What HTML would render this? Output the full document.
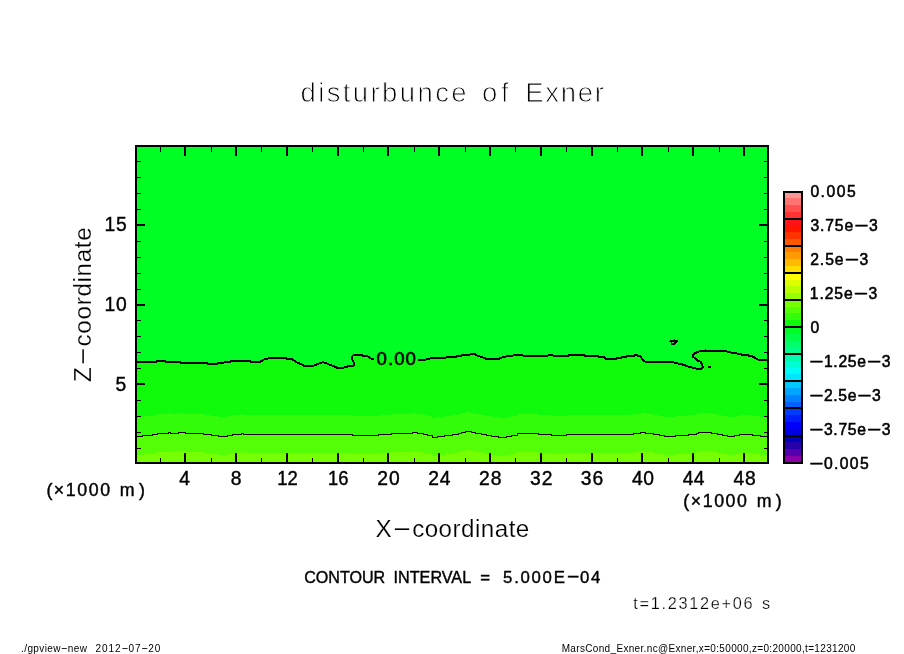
<!DOCTYPE html>
<html lang="en"><head><meta charset="utf-8"><title>disturbunce of Exner</title>
<style>
html,body{margin:0;padding:0;background:#fff;}
body{width:904px;height:654px;overflow:hidden;}
svg{display:block;}
text{white-space:pre;}
</style></head><body>
<svg width="904" height="654" viewBox="0 0 904 654">
<rect width="904" height="654" fill="#fff"/>
<g shape-rendering="crispEdges">
<rect x="136" y="146" width="632" height="317" fill="#00fd23"/>
<polygon points="136,362 156,362 157,361 165,361 166,362 180,362 181,363 207,363 208,364 217,364 218,363 222,363 224,362.5 230,362 231,361 250,361 251,362 260,362 261.5,361 263,360 265.5,359 270.5,358 286,358 287,359 292,359 293,360 295.5,361.5 298,363 302,364.5 304,366 313,366 315,365 318,364 320.5,363 323,362.25 325.5,363 328,364 330.5,365 333,366 336,367 337,367.75 344,367.5 349.3,366 353.3,365.75 354,364.8 354,363 352.7,360.5 351.8,358.3 351.5,357 353,355.5 354.9,354.9 362.3,354.9 363,355.8 367.3,356.2 369.7,357.4 371.6,358.9 373.8,359.1 378,359.8 414,360.3 418,360 427.5,359.4 430,358.5 446,357.5 456,357 457,356 461,356 462,355 469.4,355 470.5,354 475,354 476,355 479,356.25 482.5,357.25 486,358.75 499.4,358.75 501,357.75 505,357 507.5,356 512.5,356 513.5,355 522.5,355 523.5,356 547.5,356 548.5,355 552.5,355 553.5,356 568,356 569,355 583.75,355 584.75,356 598,356 599,357 604,357 606,358.75 616,358.75 617,358 621,358 622,357 626,357 627,356 634,356 635,355 637,355 638,356 640,356 642,358.75 643.75,360.6 646,362 672.5,362 675,362.9 680,363.9 684,364.9 686.7,366 689.2,366.9 693,367.8 698.5,368.95 701.6,368.95 702.9,367.2 702.3,365.4 701.3,362.9 700.4,361.6 697.9,361 696.7,359.5 694.8,358.2 693,356.7 692.7,354.8 694.2,353.6 696.7,352.3 699.2,351.4 701,350.8 725.75,350.8 728,352 734.5,353 742,354.6 752,356 755.75,358.5 759.5,360 768,360.6 768,463 136,463" fill="#10fa0c"/>
<polygon points="136,416.5 142.5,416.5 142.5,415.5 152.5,415.5 152.5,414.5 157.5,414.5 157.5,413.5 168,413.5 168,412.5 170.6,412.5 170.6,413.5 178,413.5 178,412.5 185,412.5 185,413.5 203.75,413.5 203.75,414.5 211,414.5 211,415.5 218,415.5 218,416.5 227,416.5 227,415.5 232,415.5 232,414.5 241,414.5 241,413.5 243.75,413.5 243.75,414.5 352.8,414.5 352.8,415.5 378.6,415.5 378.6,414.5 391,414.5 391,413.5 412.4,413.5 412.4,412.5 417.4,412.5 417.4,413.5 423,413.5 423,414.5 427,414.5 427,415.5 432,415.5 432,417.5 437,417.5 437,416.5 444.75,416.5 444.75,415.5 452,415.5 452,414.5 458,414.5 458,413.5 461,413.5 461,412.5 465.5,412.5 465.5,411.5 471,411.5 471,412.5 475.4,412.5 475.4,413.5 481,413.5 481,414.5 486,414.5 486,415.5 491,415.5 491,416.5 498.7,416.5 498.7,417.5 506,417.5 506,416.5 511,416.5 511,415.5 517,415.5 517,413.5 538.3,413.5 538.3,414.5 551.6,414.5 551.6,415.5 566.5,415.5 566.5,414.5 633,414.5 633,413.5 640.6,413.5 640.6,412.5 645.5,412.5 645.5,413.5 653,413.5 653,414.5 659,414.5 659,415.5 664,415.5 664,416.5 675.6,416.5 675.6,415.5 688.9,415.5 688.9,414.5 696.3,414.5 696.3,413.5 698.8,413.5 698.8,412.5 711.3,412.5 711.3,413.5 717,413.5 717,414.5 722,414.5 722,415.5 727,415.5 727,416.5 734.5,416.5 734.5,415.5 739.5,415.5 739.5,414.5 752.8,414.5 752.8,415.5 760.2,415.5 760.2,416.5 768,416.5 768,463 136,463" fill="#32fc0a"/>
<polygon points="136,436.5 142.5,436.5 142.5,435.5 152.5,435.5 152.5,434.5 157.5,434.5 157.5,433.5 168,433.5 168,432.5 170.6,432.5 170.6,433.5 178,433.5 178,432.5 185,432.5 185,433.5 203.75,433.5 203.75,434.5 211,434.5 211,435.5 218,435.5 218,436.5 227,436.5 227,435.5 232,435.5 232,434.5 241,434.5 241,433.5 243.75,433.5 243.75,434.5 352.8,434.5 352.8,435.5 378.6,435.5 378.6,434.5 391,434.5 391,433.5 412.4,433.5 412.4,432.5 417.4,432.5 417.4,433.5 423,433.5 423,434.5 427,434.5 427,435.5 432,435.5 432,437.5 437,437.5 437,436.5 444.75,436.5 444.75,435.5 452,435.5 452,434.5 458,434.5 458,433.5 461,433.5 461,432.5 465.5,432.5 465.5,431.5 471,431.5 471,432.5 475.4,432.5 475.4,433.5 481,433.5 481,434.5 486,434.5 486,435.5 491,435.5 491,436.5 498.7,436.5 498.7,437.5 506,437.5 506,436.5 511,436.5 511,435.5 517,435.5 517,433.5 538.3,433.5 538.3,434.5 551.6,434.5 551.6,435.5 566.5,435.5 566.5,434.5 633,434.5 633,433.5 640.6,433.5 640.6,432.5 645.5,432.5 645.5,433.5 653,433.5 653,434.5 659,434.5 659,435.5 664,435.5 664,436.5 675.6,436.5 675.6,435.5 688.9,435.5 688.9,434.5 696.3,434.5 696.3,433.5 698.8,433.5 698.8,432.5 711.3,432.5 711.3,433.5 717,433.5 717,434.5 722,434.5 722,435.5 727,435.5 727,436.5 734.5,436.5 734.5,435.5 739.5,435.5 739.5,434.5 752.8,434.5 752.8,435.5 760.2,435.5 760.2,436.5 768,436.5 768,463 136,463" fill="#54fe06"/>
<polygon points="136,455 142.5,455 142.5,454 152.5,454 152.5,453 157.5,453 157.5,452 168,452 168,451 170.6,451 170.6,452 178,452 178,451 185,451 185,452 203.75,452 203.75,453 211,453 211,454 218,454 218,455 227,455 227,454 232,454 232,453 241,453 241,452 243.75,452 243.75,453 352.8,453 352.8,454 378.6,454 378.6,453 391,453 391,452 412.4,452 412.4,451 417.4,451 417.4,452 423,452 423,453 427,453 427,454 432,454 432,456 437,456 437,455 444.75,455 444.75,454 452,454 452,453 458,453 458,452 461,452 461,451 465.5,451 465.5,450 471,450 471,451 475.4,451 475.4,452 481,452 481,453 486,453 486,454 491,454 491,455 498.7,455 498.7,456 506,456 506,455 511,455 511,454 517,454 517,452 538.3,452 538.3,453 551.6,453 551.6,454 566.5,454 566.5,453 633,453 633,452 640.6,452 640.6,451 645.5,451 645.5,452 653,452 653,453 659,453 659,454 664,454 664,455 675.6,455 675.6,454 688.9,454 688.9,453 696.3,453 696.3,452 698.8,452 698.8,451 711.3,451 711.3,452 717,452 717,453 722,453 722,454 727,454 727,455 734.5,455 734.5,454 739.5,454 739.5,453 752.8,453 752.8,454 760.2,454 760.2,455 768,455 768,463 136,463" fill="#76ff02"/>
<polyline points="136,362 156,362 157,361 165,361 166,362 180,362 181,363 207,363 208,364 217,364 218,363 222,363 224,362.5 230,362 231,361 250,361 251,362 260,362 261.5,361 263,360 265.5,359 270.5,358 286,358 287,359 292,359 293,360 295.5,361.5 298,363 302,364.5 304,366 313,366 315,365 318,364 320.5,363 323,362.25 325.5,363 328,364 330.5,365 333,366 336,367 337,367.75 344,367.5 349.3,366 353.3,365.75 354,364.8 354,363 352.7,360.5 351.8,358.3 351.5,357 353,355.5 354.9,354.9 362.3,354.9 363,355.8 367.3,356.2 369.7,357.4 371.6,358.9 373.8,359.1" fill="none" stroke="#000" stroke-width="2"/>
<polyline points="418,360 427.5,359.4 430,358.5 446,357.5 456,357 457,356 461,356 462,355 469.4,355 470.5,354 475,354 476,355 479,356.25 482.5,357.25 486,358.75 499.4,358.75 501,357.75 505,357 507.5,356 512.5,356 513.5,355 522.5,355 523.5,356 547.5,356 548.5,355 552.5,355 553.5,356 568,356 569,355 583.75,355 584.75,356 598,356 599,357 604,357 606,358.75 616,358.75 617,358 621,358 622,357 626,357 627,356 634,356 635,355 637,355 638,356 640,356 642,358.75 643.75,360.6 646,362 672.5,362 675,362.9 680,363.9 684,364.9 686.7,366 689.2,366.9 693,367.8 698.5,368.95 701.6,368.95 702.9,367.2 702.3,365.4 701.3,362.9 700.4,361.6 697.9,361 696.7,359.5 694.8,358.2 693,356.7 692.7,354.8 694.2,353.6 696.7,352.3 699.2,351.4 701,350.8 725.75,350.8 728,352 734.5,353 742,354.6 752,356 755.75,358.5 759.5,360 768,360.6" fill="none" stroke="#000" stroke-width="2"/>
<polyline points="136,436.5 142.5,436.5 142.5,435.5 152.5,435.5 152.5,434.5 157.5,434.5 157.5,433.5 168,433.5 168,432.5 170.6,432.5 170.6,433.5 178,433.5 178,432.5 185,432.5 185,433.5 203.75,433.5 203.75,434.5 211,434.5 211,435.5 218,435.5 218,436.5 227,436.5 227,435.5 232,435.5 232,434.5 241,434.5 241,433.5 243.75,433.5 243.75,434.5 352.8,434.5 352.8,435.5 378.6,435.5 378.6,434.5 391,434.5 391,433.5 412.4,433.5 412.4,432.5 417.4,432.5 417.4,433.5 423,433.5 423,434.5 427,434.5 427,435.5 432,435.5 432,437.5 437,437.5 437,436.5 444.75,436.5 444.75,435.5 452,435.5 452,434.5 458,434.5 458,433.5 461,433.5 461,432.5 465.5,432.5 465.5,431.5 471,431.5 471,432.5 475.4,432.5 475.4,433.5 481,433.5 481,434.5 486,434.5 486,435.5 491,435.5 491,436.5 498.7,436.5 498.7,437.5 506,437.5 506,436.5 511,436.5 511,435.5 517,435.5 517,433.5 538.3,433.5 538.3,434.5 551.6,434.5 551.6,435.5 566.5,435.5 566.5,434.5 633,434.5 633,433.5 640.6,433.5 640.6,432.5 645.5,432.5 645.5,433.5 653,433.5 653,434.5 659,434.5 659,435.5 664,435.5 664,436.5 675.6,436.5 675.6,435.5 688.9,435.5 688.9,434.5 696.3,434.5 696.3,433.5 698.8,433.5 698.8,432.5 711.3,432.5 711.3,433.5 717,433.5 717,434.5 722,434.5 722,435.5 727,435.5 727,436.5 734.5,436.5 734.5,435.5 739.5,435.5 739.5,434.5 752.8,434.5 752.8,435.5 760.2,435.5 760.2,436.5 768,436.5" fill="none" stroke="#000" stroke-width="1"/>
<rect x="674" y="339" width="1" height="1" fill="#000"/>
<rect x="670" y="340" width="8" height="1" fill="#000"/>
<rect x="669" y="341" width="9" height="1" fill="#000"/>
<rect x="671" y="342" width="1" height="1" fill="#000"/>
<rect x="674" y="342" width="3" height="1" fill="#000"/>
<rect x="671" y="343" width="5" height="1" fill="#000"/>
<rect x="671" y="344" width="4" height="1" fill="#000"/>
<rect x="672" y="342" width="2" height="1" fill="#10fa0c"/>
<rect x="708" y="366" width="3" height="2" fill="#000"/>
<rect x="705" y="349" width="1" height="1" fill="#000"/>
<rect x="160" y="147" width="1" height="5" fill="#000"/>
<rect x="160" y="458" width="1" height="4" fill="#000"/>
<rect x="184" y="147" width="2" height="9" fill="#000"/>
<rect x="184" y="453" width="2" height="9" fill="#000"/>
<rect x="211" y="147" width="1" height="5" fill="#000"/>
<rect x="211" y="458" width="1" height="4" fill="#000"/>
<rect x="235" y="147" width="2" height="9" fill="#000"/>
<rect x="235" y="453" width="2" height="9" fill="#000"/>
<rect x="261" y="147" width="1" height="5" fill="#000"/>
<rect x="261" y="458" width="1" height="4" fill="#000"/>
<rect x="286" y="147" width="2" height="9" fill="#000"/>
<rect x="286" y="453" width="2" height="9" fill="#000"/>
<rect x="312" y="147" width="1" height="5" fill="#000"/>
<rect x="312" y="458" width="1" height="4" fill="#000"/>
<rect x="337" y="147" width="2" height="9" fill="#000"/>
<rect x="337" y="453" width="2" height="9" fill="#000"/>
<rect x="363" y="147" width="1" height="5" fill="#000"/>
<rect x="363" y="458" width="1" height="4" fill="#000"/>
<rect x="387" y="147" width="2" height="9" fill="#000"/>
<rect x="387" y="453" width="2" height="9" fill="#000"/>
<rect x="414" y="147" width="1" height="5" fill="#000"/>
<rect x="414" y="458" width="1" height="4" fill="#000"/>
<rect x="438" y="147" width="2" height="9" fill="#000"/>
<rect x="438" y="453" width="2" height="9" fill="#000"/>
<rect x="465" y="147" width="1" height="5" fill="#000"/>
<rect x="465" y="458" width="1" height="4" fill="#000"/>
<rect x="489" y="147" width="2" height="9" fill="#000"/>
<rect x="489" y="453" width="2" height="9" fill="#000"/>
<rect x="515" y="147" width="1" height="5" fill="#000"/>
<rect x="515" y="458" width="1" height="4" fill="#000"/>
<rect x="540" y="147" width="2" height="9" fill="#000"/>
<rect x="540" y="453" width="2" height="9" fill="#000"/>
<rect x="566" y="147" width="1" height="5" fill="#000"/>
<rect x="566" y="458" width="1" height="4" fill="#000"/>
<rect x="591" y="147" width="2" height="9" fill="#000"/>
<rect x="591" y="453" width="2" height="9" fill="#000"/>
<rect x="617" y="147" width="1" height="5" fill="#000"/>
<rect x="617" y="458" width="1" height="4" fill="#000"/>
<rect x="641" y="147" width="2" height="9" fill="#000"/>
<rect x="641" y="453" width="2" height="9" fill="#000"/>
<rect x="668" y="147" width="1" height="5" fill="#000"/>
<rect x="668" y="458" width="1" height="4" fill="#000"/>
<rect x="692" y="147" width="2" height="9" fill="#000"/>
<rect x="692" y="453" width="2" height="9" fill="#000"/>
<rect x="719" y="147" width="1" height="5" fill="#000"/>
<rect x="719" y="458" width="1" height="4" fill="#000"/>
<rect x="743" y="147" width="2" height="9" fill="#000"/>
<rect x="743" y="453" width="2" height="9" fill="#000"/>
<rect x="137" y="448" width="4" height="1" fill="#000"/>
<rect x="764" y="448" width="3" height="1" fill="#000"/>
<rect x="137" y="432" width="4" height="1" fill="#000"/>
<rect x="764" y="432" width="3" height="1" fill="#000"/>
<rect x="137" y="416" width="4" height="1" fill="#000"/>
<rect x="764" y="416" width="3" height="1" fill="#000"/>
<rect x="137" y="400" width="4" height="1" fill="#000"/>
<rect x="764" y="400" width="3" height="1" fill="#000"/>
<rect x="137" y="383" width="8" height="2" fill="#000"/>
<rect x="759" y="383" width="8" height="2" fill="#000"/>
<rect x="137" y="368" width="4" height="1" fill="#000"/>
<rect x="764" y="368" width="3" height="1" fill="#000"/>
<rect x="137" y="352" width="4" height="1" fill="#000"/>
<rect x="764" y="352" width="3" height="1" fill="#000"/>
<rect x="137" y="336" width="4" height="1" fill="#000"/>
<rect x="764" y="336" width="3" height="1" fill="#000"/>
<rect x="137" y="320" width="4" height="1" fill="#000"/>
<rect x="764" y="320" width="3" height="1" fill="#000"/>
<rect x="137" y="304" width="8" height="2" fill="#000"/>
<rect x="759" y="304" width="8" height="2" fill="#000"/>
<rect x="137" y="289" width="4" height="1" fill="#000"/>
<rect x="764" y="289" width="3" height="1" fill="#000"/>
<rect x="137" y="273" width="4" height="1" fill="#000"/>
<rect x="764" y="273" width="3" height="1" fill="#000"/>
<rect x="137" y="257" width="4" height="1" fill="#000"/>
<rect x="764" y="257" width="3" height="1" fill="#000"/>
<rect x="137" y="241" width="4" height="1" fill="#000"/>
<rect x="764" y="241" width="3" height="1" fill="#000"/>
<rect x="137" y="224" width="8" height="2" fill="#000"/>
<rect x="759" y="224" width="8" height="2" fill="#000"/>
<rect x="137" y="209" width="4" height="1" fill="#000"/>
<rect x="764" y="209" width="3" height="1" fill="#000"/>
<rect x="137" y="193" width="4" height="1" fill="#000"/>
<rect x="764" y="193" width="3" height="1" fill="#000"/>
<rect x="137" y="177" width="4" height="1" fill="#000"/>
<rect x="764" y="177" width="3" height="1" fill="#000"/>
<rect x="137" y="161" width="4" height="1" fill="#000"/>
<rect x="764" y="161" width="3" height="1" fill="#000"/>
<rect x="136" y="146" width="632" height="317" fill="none" stroke="#000" stroke-width="2"/>
<rect x="784" y="192" width="18" height="6" fill="#ff9696"/>
<rect x="784" y="198" width="18" height="7" fill="#ff7373"/>
<rect x="784" y="205" width="18" height="7" fill="#ff5050"/>
<rect x="784" y="212" width="18" height="7" fill="#ff3232"/>
<rect x="784" y="219" width="18" height="6" fill="#ff1419"/>
<rect x="784" y="225" width="18" height="7" fill="#ff1400"/>
<rect x="784" y="232" width="18" height="7" fill="#ff3200"/>
<rect x="784" y="239" width="18" height="7" fill="#ff5a00"/>
<rect x="784" y="246" width="18" height="6" fill="#ff7d00"/>
<rect x="784" y="252" width="18" height="7" fill="#ff9b00"/>
<rect x="784" y="259" width="18" height="7" fill="#ffb900"/>
<rect x="784" y="266" width="18" height="7" fill="#ffdc00"/>
<rect x="784" y="273" width="18" height="7" fill="#ffff00"/>
<rect x="784" y="280" width="18" height="6" fill="#dcff00"/>
<rect x="784" y="286" width="18" height="7" fill="#b9ff00"/>
<rect x="784" y="293" width="18" height="7" fill="#96ff00"/>
<rect x="784" y="300" width="18" height="7" fill="#76ff02"/>
<rect x="784" y="307" width="18" height="6" fill="#54fe06"/>
<rect x="784" y="313" width="18" height="7" fill="#32fc0a"/>
<rect x="784" y="320" width="18" height="7" fill="#10fa0c"/>
<rect x="784" y="327" width="18" height="7" fill="#00fd23"/>
<rect x="784" y="334" width="18" height="7" fill="#00fd48"/>
<rect x="784" y="341" width="18" height="6" fill="#00fd6c"/>
<rect x="784" y="347" width="18" height="7" fill="#00fd8c"/>
<rect x="784" y="354" width="18" height="7" fill="#00fdaf"/>
<rect x="784" y="361" width="18" height="7" fill="#00fed2"/>
<rect x="784" y="368" width="18" height="6" fill="#00fcf5"/>
<rect x="784" y="374" width="18" height="7" fill="#00e6ff"/>
<rect x="784" y="381" width="18" height="7" fill="#00c8ff"/>
<rect x="784" y="388" width="18" height="7" fill="#00a5ff"/>
<rect x="784" y="395" width="18" height="7" fill="#0082ff"/>
<rect x="784" y="402" width="18" height="6" fill="#005fff"/>
<rect x="784" y="408" width="18" height="7" fill="#003cff"/>
<rect x="784" y="415" width="18" height="7" fill="#001efc"/>
<rect x="784" y="422" width="18" height="7" fill="#0000fa"/>
<rect x="784" y="429" width="18" height="6" fill="#0000e1"/>
<rect x="784" y="435" width="18" height="7" fill="#0000b9"/>
<rect x="784" y="442" width="18" height="7" fill="#2800aa"/>
<rect x="784" y="449" width="18" height="7" fill="#5500af"/>
<rect x="784" y="456" width="18" height="7" fill="#8c00aa"/>
<rect x="784" y="218" width="18" height="2" fill="#000"/>
<rect x="784" y="245" width="18" height="2" fill="#000"/>
<rect x="784" y="272" width="18" height="2" fill="#000"/>
<rect x="784" y="299" width="18" height="2" fill="#000"/>
<rect x="784" y="326" width="18" height="2" fill="#000"/>
<rect x="784" y="353" width="18" height="2" fill="#000"/>
<rect x="784" y="380" width="18" height="2" fill="#000"/>
<rect x="784" y="407" width="18" height="2" fill="#000"/>
<rect x="784" y="435" width="18" height="2" fill="#000"/>
<rect x="784" y="192" width="18" height="271" fill="none" stroke="#000" stroke-width="2"/>
</g>
<g font-family="'Liberation Sans', 'DejaVu Sans', sans-serif" fill="#000">
<text y="101.5" font-size="27.5" stroke="#fff" stroke-width="0.9"><tspan x="300.45" letter-spacing="2.4">disturbunce</tspan> <tspan x="482.05" letter-spacing="3.78">of</tspan> <tspan x="525.34" letter-spacing="1.669">Exner</tspan></text>
<text y="485" font-size="19.3" stroke="#000" stroke-width="0.4"><tspan x="179.37" letter-spacing="0">4</tspan></text>
<text y="485" font-size="19.3" stroke="#000" stroke-width="0.4"><tspan x="230.69" letter-spacing="0">8</tspan></text>
<text y="485" font-size="19.3" stroke="#000" stroke-width="0.4"><tspan x="277.14" textLength="20.53" lengthAdjust="spacingAndGlyphs">12</tspan></text>
<text y="485" font-size="19.3" stroke="#000" stroke-width="0.4"><tspan x="327.97" textLength="20.4" lengthAdjust="spacingAndGlyphs">16</tspan></text>
<text y="485" font-size="19.3" stroke="#000" stroke-width="0.4"><tspan x="377.31" letter-spacing="1.057">20</tspan></text>
<text y="485" font-size="19.3" stroke="#000" stroke-width="0.4"><tspan x="428.13" letter-spacing="0.869">24</tspan></text>
<text y="485" font-size="19.3" stroke="#000" stroke-width="0.4"><tspan x="478.94" letter-spacing="1.142">28</tspan></text>
<text y="485" font-size="19.3" stroke="#000" stroke-width="0.4"><tspan x="529.99" letter-spacing="1.038">32</tspan></text>
<text y="485" font-size="19.3" stroke="#000" stroke-width="0.4"><tspan x="580.81" letter-spacing="0.916">36</tspan></text>
<text y="485" font-size="19.3" stroke="#000" stroke-width="0.4"><tspan x="631.92" letter-spacing="0.529">40</tspan></text>
<text y="485" font-size="19.3" stroke="#000" stroke-width="0.4"><tspan x="682.73" letter-spacing="0.341">44</tspan></text>
<text y="485" font-size="19.3" stroke="#000" stroke-width="0.4"><tspan x="733.55" letter-spacing="0.614">48</tspan></text>
<text y="231" font-size="19.3" stroke="#000" stroke-width="0.4"><tspan x="104.53" letter-spacing="0.813">15</tspan></text>
<text y="311" font-size="19.3" stroke="#000" stroke-width="0.4"><tspan x="104.53" letter-spacing="0.757">10</tspan></text>
<text y="390.5" font-size="19.3" stroke="#000" stroke-width="0.4"><tspan x="115.43" letter-spacing="0">5</tspan></text>
<text y="495.7" font-size="17.8" stroke="#000" stroke-width="0.4"><tspan x="46.4" letter-spacing="1.556">(×1000</tspan> <tspan x="119.82" letter-spacing="4.281">m)</tspan></text>
<text y="507" font-size="17.8" stroke="#000" stroke-width="0.4"><tspan x="683.3" letter-spacing="1.556">(×1000</tspan> <tspan x="756.72" letter-spacing="4.231">m)</tspan></text>
<text y="537" font-size="24.2" stroke="#fff" stroke-width="0.2"><tspan x="375.46" letter-spacing="0.468">X</tspan><tspan dy="-2.06" letter-spacing="0" textLength="20.086" lengthAdjust="spacingAndGlyphs">-</tspan><tspan dy="2.06" letter-spacing="0.468">coordinate</tspan></text>
<g transform="translate(91.3,0) rotate(-90)"><text y="0" font-size="24.2" stroke="#fff" stroke-width="0.2"><tspan x="-381.97" letter-spacing="0.686">Z</tspan><tspan dy="-2.06" letter-spacing="0" textLength="20.086" lengthAdjust="spacingAndGlyphs">-</tspan><tspan dy="2.06" letter-spacing="0.686">coordinate</tspan></text></g>
<text y="582.6" font-size="16.8" stroke="#000" stroke-width="0.4"><tspan x="304.19" textLength="81.06" lengthAdjust="spacingAndGlyphs">CONTOUR</tspan> <tspan x="393.55" textLength="76.98" lengthAdjust="spacingAndGlyphs">INTERVAL</tspan> <tspan x="480.18" letter-spacing="0">=</tspan> <tspan x="503.08" letter-spacing="1.72">5.000E</tspan><tspan dy="-1.43" letter-spacing="0" textLength="13.44" lengthAdjust="spacingAndGlyphs">-</tspan><tspan dy="1.43" letter-spacing="1.72">04</tspan></text>
<text y="608.7" font-size="16.3" stroke="#fff" stroke-width="0.25"><tspan x="633.35" letter-spacing="1.704">t=1.2312e+06</tspan> <tspan x="762.05" letter-spacing="0">s</tspan></text>
<text y="652" font-size="10" ><tspan x="21.09" letter-spacing="0.386">./gpview</tspan><tspan dy="-0.85" letter-spacing="0" textLength="7" lengthAdjust="spacingAndGlyphs">-</tspan><tspan dy="0.85" letter-spacing="0.386">new</tspan> <tspan x="95.5" letter-spacing="0.914">2012</tspan><tspan dy="-0.85" letter-spacing="0" textLength="7" lengthAdjust="spacingAndGlyphs">-</tspan><tspan dy="0.85" letter-spacing="0.914">07</tspan><tspan dy="-0.85" letter-spacing="0" textLength="7" lengthAdjust="spacingAndGlyphs">-</tspan><tspan dy="0.85" letter-spacing="0.914">20</tspan></text>
<text y="652" font-size="10" ><tspan x="561.68" letter-spacing="0.335">MarsCond_Exner.nc@Exner,x=0:50000,z=0:20000,t=1231200</tspan></text>
<text y="196.9" font-size="15.7" stroke="#000" stroke-width="0.55"><tspan x="810.39" letter-spacing="1.496">0.005</tspan></text>
<text y="230.9" font-size="15.7" stroke="#000" stroke-width="0.55"><tspan x="810.4" letter-spacing="0.871">3.75e</tspan><tspan dy="-1.33" letter-spacing="0" textLength="14.915" lengthAdjust="spacingAndGlyphs">-</tspan><tspan dy="1.33" letter-spacing="0.871">3</tspan></text>
<text y="264.9" font-size="15.7" stroke="#000" stroke-width="0.55"><tspan x="810.21" letter-spacing="0.944">2.5e</tspan><tspan dy="-1.33" letter-spacing="0" textLength="14.915" lengthAdjust="spacingAndGlyphs">-</tspan><tspan dy="1.33" letter-spacing="0.944">3</tspan></text>
<text y="298.9" font-size="15.7" stroke="#000" stroke-width="0.55"><tspan x="809.8" letter-spacing="0.89">1.25e</tspan><tspan dy="-1.33" letter-spacing="0" textLength="14.915" lengthAdjust="spacingAndGlyphs">-</tspan><tspan dy="1.33" letter-spacing="0.89">3</tspan></text>
<text y="332.9" font-size="15.7" stroke="#000" stroke-width="0.55"><tspan x="810.39" letter-spacing="0">0</tspan></text>
<text y="366.9" font-size="15.7" stroke="#000" stroke-width="0.55"><tspan x="809.01" dy="-1.33" letter-spacing="0" textLength="14.915" lengthAdjust="spacingAndGlyphs">-</tspan><tspan dy="1.33" letter-spacing="0.706">1.25e</tspan><tspan dy="-1.33" letter-spacing="0" textLength="14.915" lengthAdjust="spacingAndGlyphs">-</tspan><tspan dy="1.33" letter-spacing="0.706">3</tspan></text>
<text y="400.9" font-size="15.7" stroke="#000" stroke-width="0.55"><tspan x="809.01" dy="-1.33" letter-spacing="0" textLength="14.915" lengthAdjust="spacingAndGlyphs">-</tspan><tspan dy="1.33" letter-spacing="0.64">2.5e</tspan><tspan dy="-1.33" letter-spacing="0" textLength="14.915" lengthAdjust="spacingAndGlyphs">-</tspan><tspan dy="1.33" letter-spacing="0.64">3</tspan></text>
<text y="434.9" font-size="15.7" stroke="#000" stroke-width="0.55"><tspan x="809.01" dy="-1.33" letter-spacing="0" textLength="14.915" lengthAdjust="spacingAndGlyphs">-</tspan><tspan dy="1.33" letter-spacing="0.706">3.75e</tspan><tspan dy="-1.33" letter-spacing="0" textLength="14.915" lengthAdjust="spacingAndGlyphs">-</tspan><tspan dy="1.33" letter-spacing="0.706">3</tspan></text>
<text y="468.9" font-size="15.7" stroke="#000" stroke-width="0.55"><tspan x="809.01" dy="-1.33" letter-spacing="0" textLength="14.915" lengthAdjust="spacingAndGlyphs">-</tspan><tspan dy="1.33" letter-spacing="1.362">0.005</tspan></text>
<text y="365.2" font-size="18.6" stroke="#000" stroke-width="0.7"><tspan x="376.57" letter-spacing="1.051">0.00</tspan></text>
</g>
</svg>
</body></html>
